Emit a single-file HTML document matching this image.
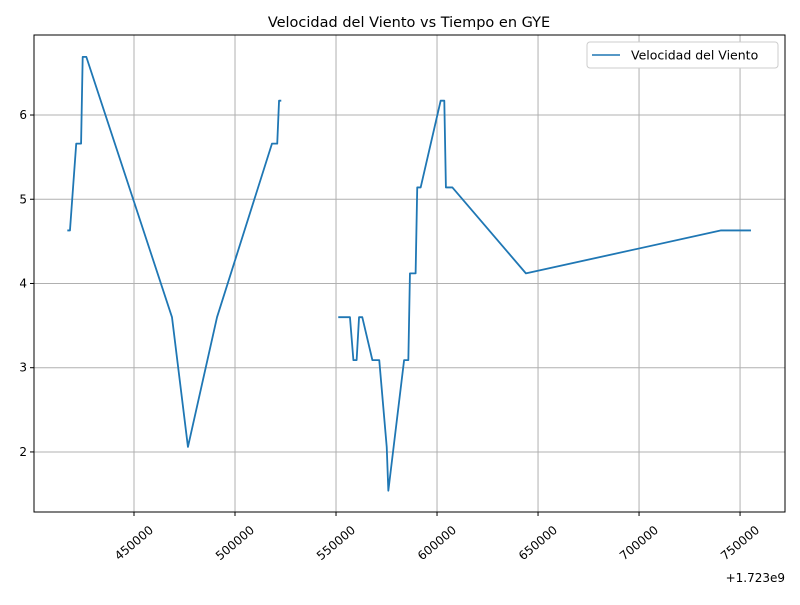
<!DOCTYPE html>
<html><head><meta charset="utf-8"><style>
body{margin:0;background:#fff;font-family:"Liberation Sans","DejaVu Sans",sans-serif}
svg text{font-family:"DejaVu Sans","Liberation Sans",sans-serif}
</style></head><body>
<svg id="chart" width="800" height="600" xmlns="http://www.w3.org/2000/svg">
<rect width="800" height="600" fill="#fff"/>
<text x="409" y="27" font-size="14.5" text-anchor="middle">Velocidad del Viento vs Tiempo en GYE</text>
<g id="grid"></g>
<g id="ticks"></g>
<path id="line" fill="none" stroke="#1f77b4" stroke-width="1.8" stroke-linejoin="round"/>
<rect x="34" y="35" width="751" height="477" fill="none" stroke="#000" stroke-width="1"/>
<text x="785" y="582" font-size="12" text-anchor="end">+1.723e9</text>
<g>
<rect x="587" y="42" width="191" height="26" rx="3" fill="#fff" stroke="#ccc"/>
<line x1="592" y1="55" x2="620" y2="55" stroke="#1f77b4" stroke-width="1.6"/>
<text x="631" y="59.5" font-size="12.5">Velocidad del Viento</text>
</g>
</svg>
<script>
const times=[417000,418300,421400,423800,424600,426400,468800,476700,491100,518300,520900,521800,522900,null,551100,556900,558600,560200,561400,563000,568000,571400,575100,575900,583700,585800,586600,589400,590200,591900,601800,603600,604400,607600,644000,740600,755400];
const speeds=[4.63,4.63,5.66,5.66,6.69,6.69,3.6,2.06,3.6,5.66,5.66,6.17,6.17,null,3.6,3.6,3.09,3.09,3.6,3.6,3.09,3.09,2.06,1.54,3.09,3.09,4.12,4.12,5.14,5.14,6.17,6.17,5.14,5.14,4.12,4.63,4.63];
const xTicks=[450000,500000,550000,600000,650000,700000,750000];
const yTicks=[2,3,4,5,6];
const X0=34,X1=785,Y0=512,Y1=35;
const xMin=400500,xMax=772250,yMin=1.287,yMax=6.95;
const xs=v=>X0+(v-xMin)/(xMax-xMin)*(X1-X0);
const ys=v=>Y0-(v-yMin)/(yMax-yMin)*(Y0-Y1);
const NS='http://www.w3.org/2000/svg';
const grid=document.getElementById('grid'),tk=document.getElementById('ticks');
function mk(tag,attrs,parent){const e=document.createElementNS(NS,tag);for(const k in attrs)e.setAttribute(k,attrs[k]);parent.appendChild(e);return e;}
xTicks.forEach(t=>{const x=xs(t);
 const g=mk('line',{x1:x,x2:x,y1:Y1,y2:Y0,stroke:'#b0b0b0','stroke-width':1},grid);
 
 
 mk('line',{x1:x,x2:x,y1:Y0,y2:Y0+4,stroke:'#000'},tk);
 const cy=Y0+31;
 const l=mk('text',{x:x,y:cy+4,'font-size':12,'text-anchor':'middle',transform:`rotate(-40 ${x} ${cy})`},tk);
 l.textContent=t;
 
 
});
yTicks.forEach(t=>{const y=ys(t);
 const g=mk('line',{x1:X0,x2:X1,y1:y,y2:y,stroke:'#b0b0b0','stroke-width':1},grid);
 
 
 mk('line',{x1:X0-4,x2:X0,y1:y,y2:y,stroke:'#000'},tk);
 const l=mk('text',{x:X0-7,y:y+4,'font-size':12,'text-anchor':'end'},tk);
 l.textContent=t;
 
 
});
let d='',pen=false;
times.forEach((t,i)=>{const v=speeds[i];
 if(t===null||v===null){pen=false;return;}
 d+=(pen?'L':'M')+xs(t).toFixed(2)+' '+ys(v).toFixed(2)+' ';pen=true;});
document.getElementById('line').setAttribute('d',d);
</script>
</body></html>
